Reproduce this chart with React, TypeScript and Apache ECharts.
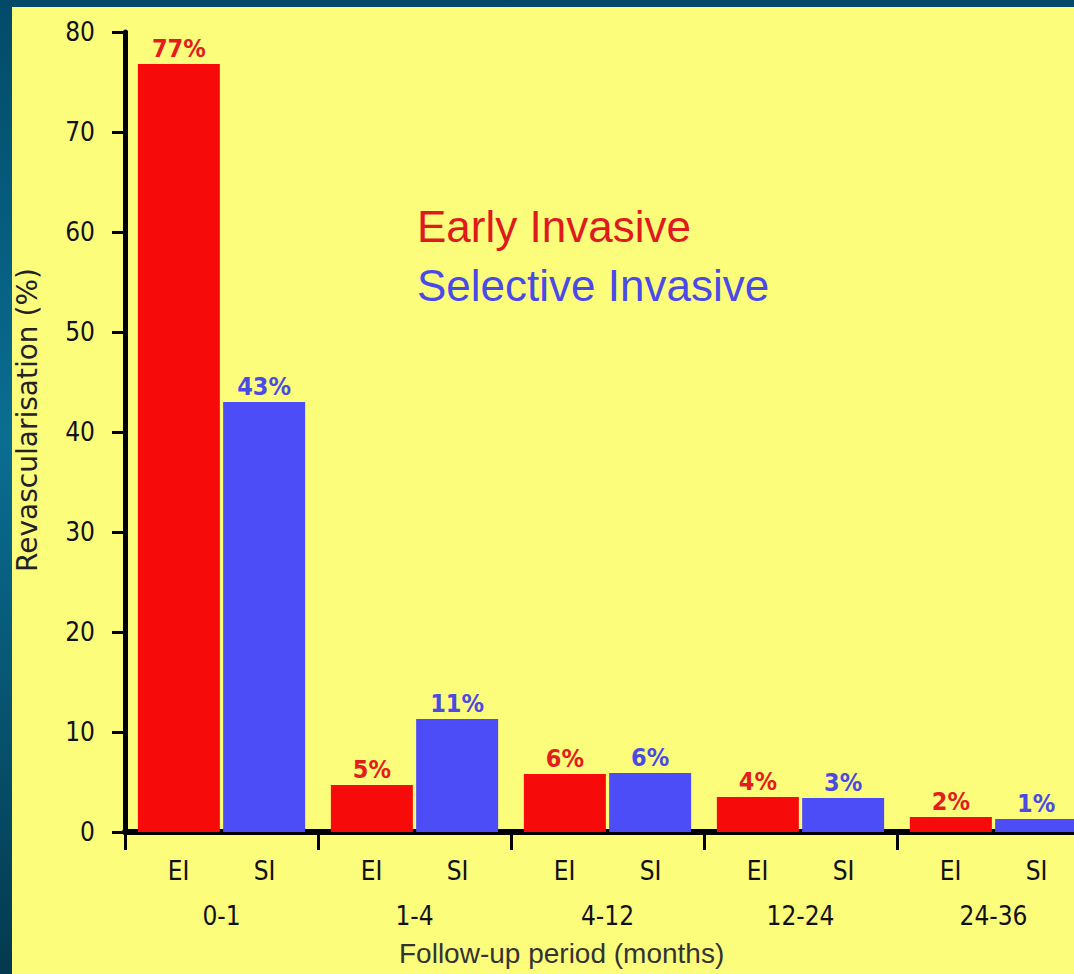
import React, { useEffect, useRef } from "react";
import * as echarts from "echarts";

const periods = ["0-1", "1-4", "4-12", "12-24", "24-36"];
const earlyInvasive = [76.8, 4.7, 5.8, 3.5, 1.5];
const selectiveInvasive = [43, 11.3, 5.9, 3.4, 1.3];
const earlyLabels = ["77%", "5%", "6%", "4%", "2%"];
const selectiveLabels = ["43%", "11%", "6%", "3%", "1%"];
const yTicks = [0, 10, 20, 30, 40, 50, 60, 70, 80];

const W = 1074;
const H = 974;

export default function App() {
  const ref = useRef<HTMLDivElement>(null);

  useEffect(() => {
    if (!ref.current) return;
    const chart = echarts.init(ref.current, undefined, { renderer: "svg" });
    const tickFont = "'DejaVu Sans Condensed', 'DejaVu Sans', sans-serif";
    const option: any = {
      animation: false,
      backgroundColor: "transparent",
      graphic: [
        {
          type: "rect",
          z: -100,
          silent: true,
          shape: { x: 12, y: 7, width: W - 12, height: H - 7 },
          style: { fill: "#fdfd7c" },
        },
        {
          type: "text",
          left: 417,
          top: 204,
          style: {
            text: "Early Invasive",
            fill: "#de1a1a",
            font: "44px 'Liberation Sans', Arial, sans-serif",
          },
        },
        {
          type: "text",
          left: 417,
          top: 263,
          style: {
            text: "Selective Invasive",
            fill: "#4a4ae6",
            font: "44px 'Liberation Sans', Arial, sans-serif",
          },
        },
        {
          type: "text",
          left: 399,
          top: 939,
          style: {
            text: "Follow-up period (months)",
            fill: "#333333",
            font: "28px 'Liberation Sans', Arial, sans-serif",
          },
        },
      ],
      grid: {
        left: 125,
        right: -16,
        top: 32,
        bottom: 142,
        containLabel: false,
        outerBoundsMode: "none",
      },
      xAxis: {
        type: "category",
        data: periods,
        axisLine: { lineStyle: { color: "#000", width: 6 } },
        axisTick: { show: true, length: 18, lineStyle: { color: "#000", width: 3 } },
        axisLabel: {
          margin: 16,
          interval: 0,
          formatter: (v: string) => `{a|EI}{b|SI}\n{c|${v}}`,
          rich: {
            a: { width: 86, align: "center", fontSize: 26, fontFamily: tickFont, color: "#111", lineHeight: 45 },
            b: { width: 86, align: "center", fontSize: 26, fontFamily: tickFont, color: "#111", lineHeight: 45 },
            c: { width: 172, align: "center", fontSize: 26, fontFamily: tickFont, color: "#111", lineHeight: 45 },
          },
        },
      },
      yAxis: {
        type: "value",
        min: 0,
        max: 80,
        interval: 10,
        name: "Revascularisation (%)",
        nameLocation: "middle",
        nameGap: 84,
        nameTextStyle: {
          fontFamily: "'DejaVu Sans', sans-serif",
          fontSize: 28,
          color: "#222",
          padding: [0, 0, 0, 24],
        },
        splitLine: { show: false },
        axisLine: { show: true, lineStyle: { color: "#000", width: 5 } },
        axisTick: { show: true, length: 13, lineStyle: { color: "#000", width: 3 } },
        axisLabel: {
          margin: 30,
          fontSize: 26,
          fontFamily: tickFont,
          color: "#111",
          formatter: (v: number) => (yTicks.includes(v) ? String(v) : ""),
        },
      },
      series: [
        {
          name: "Early Invasive",
          type: "bar",
          data: earlyInvasive,
          barWidth: 82,
          barGap: "4%",
          itemStyle: { color: "#f70a0a" },
          label: {
            show: true,
            position: "top",
            distance: 3,
            formatter: (p: any) => earlyLabels[p.dataIndex],
            color: "#e31c1c",
            fontSize: 25,
            fontWeight: "bold",
            fontFamily: tickFont,
          },
        },
        {
          name: "Selective Invasive",
          type: "bar",
          data: selectiveInvasive,
          barWidth: 82,
          itemStyle: { color: "#4d4df7" },
          label: {
            show: true,
            position: "top",
            distance: 3,
            formatter: (p: any) => selectiveLabels[p.dataIndex],
            color: "#4b4be3",
            fontSize: 25,
            fontWeight: "bold",
            fontFamily: tickFont,
          },
        },
      ],
    };
    chart.setOption(option);
    return () => chart.dispose();
  }, []);

  return (
    <div
      style={{
        position: "fixed",
        left: 0,
        top: 0,
        width: W,
        height: H,
        background: "linear-gradient(to bottom, #034a68 0%, #0a6e92 45%, #04394f 100%)",
      }}
    >
      <div ref={ref} style={{ width: W, height: H }} />
    </div>
  );
}
